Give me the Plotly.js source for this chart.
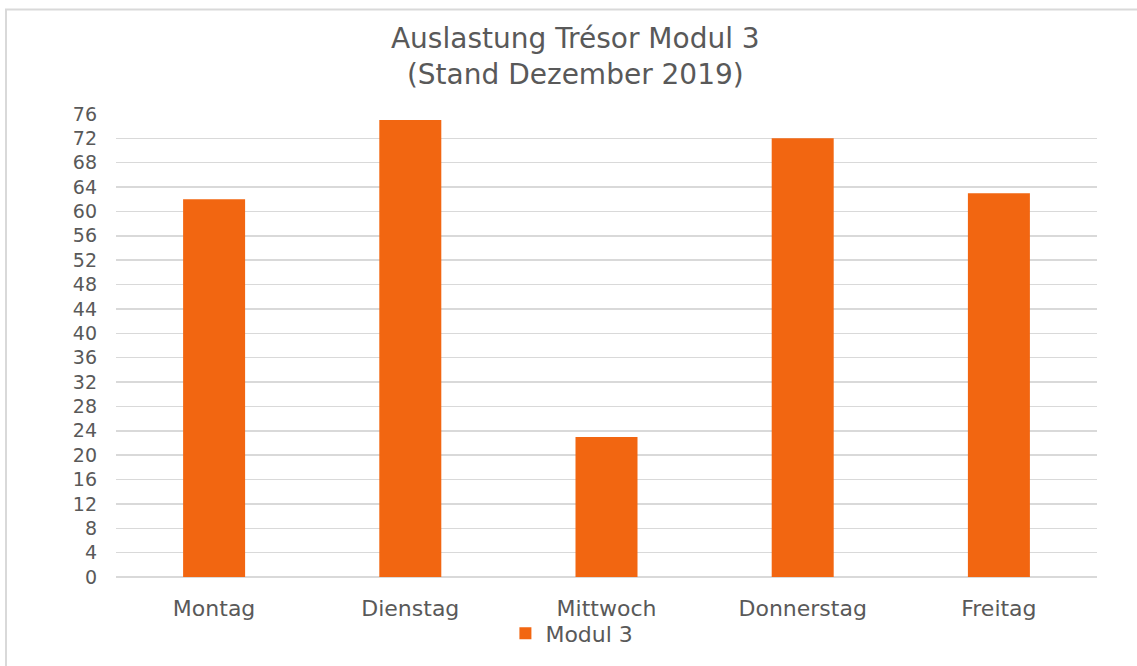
<!DOCTYPE html>
<html>
<head>
<meta charset="utf-8">
<script src="https://cdn.plot.ly/plotly-3.0.1.min.js"></script>
<style>
  html, body { margin: 0; padding: 0; background: #fff; }
  #chart { width: 1137px; height: 666px; }
</style>
</head>
<body>
<div id="chart"></div>
<script>
const categories = ["Montag", "Dienstag", "Mittwoch", "Donnerstag", "Freitag"];
const seriesName = "Modul 3";
const values = [62, 75, 23, 72, 63];
const yTicks = [0, 4, 8, 12, 16, 20, 24, 28, 32, 36, 40, 44, 48, 52, 56, 60, 64, 68, 72, 76];

const FONT = "DejaVu Sans, sans-serif";
const TXT = "#595959";

const trace = {
  type: "bar",
  x: categories,
  y: values,
  name: seriesName,
  marker: { color: "#F26611" },
  showlegend: true,
  hoverinfo: "x+y"
};

const layout = {
  width: 1137,
  height: 666,
  paper_bgcolor: "#fff",
  plot_bgcolor: "#fff",
  margin: { l: 116, r: 40, t: 114, b: 89 },
  font: { family: FONT, color: TXT },
  title: {
    text: "Auslastung Trésor Modul 3<br>(Stand Dezember 2019)",
    font: { family: FONT, size: 28, color: TXT },
    x: 0.506, xref: "container", xanchor: "center",
    y: 0.928, yref: "container", yanchor: "top"
  },
  bargap: 0.684,
  xaxis: {
    type: "category",
    showgrid: false,
    showline: false,
    zeroline: false,
    ticks: "",
    tickfont: { family: FONT, size: 22, color: TXT },
    ticklabelstandoff: 16
  },
  yaxis: {
    range: [0, 76],
    tickvals: yTicks,
    ticktext: yTicks.map(String),
    showgrid: true,
    gridcolor: "#d9d9d9",
    gridwidth: 1.5,
    zeroline: true,
    zerolinecolor: "#d9d9d9",
    zerolinewidth: 1.5,
    showline: false,
    ticks: "",
    tickfont: { family: FONT, size: 19, color: TXT },
    ticklabelstandoff: 18,
    fixedrange: true
  },
  showlegend: true,
  legend: {
    orientation: "h",
    xref: "container", yref: "container",
    x: 0.503, xanchor: "center",
    y: 0.049, yanchor: "middle",
    font: { family: FONT, size: 22, color: TXT },
    bgcolor: "rgba(0,0,0,0)"
  },
  shapes: [{
    type: "rect",
    xref: "paper", yref: "paper",
    x0: (6 - 116) / 981, x1: (1145 - 116) / 981,
    y0: (577 - 680) / 463, y1: (577 - 9.5) / 463,
    line: { color: "#d9d9d9", width: 2 },
    fillcolor: "rgba(0,0,0,0)",
    layer: "below"
  }]
};

Plotly.newPlot("chart", [trace], layout, { displayModeBar: false, staticPlot: true });
</script>
</body>
</html>
